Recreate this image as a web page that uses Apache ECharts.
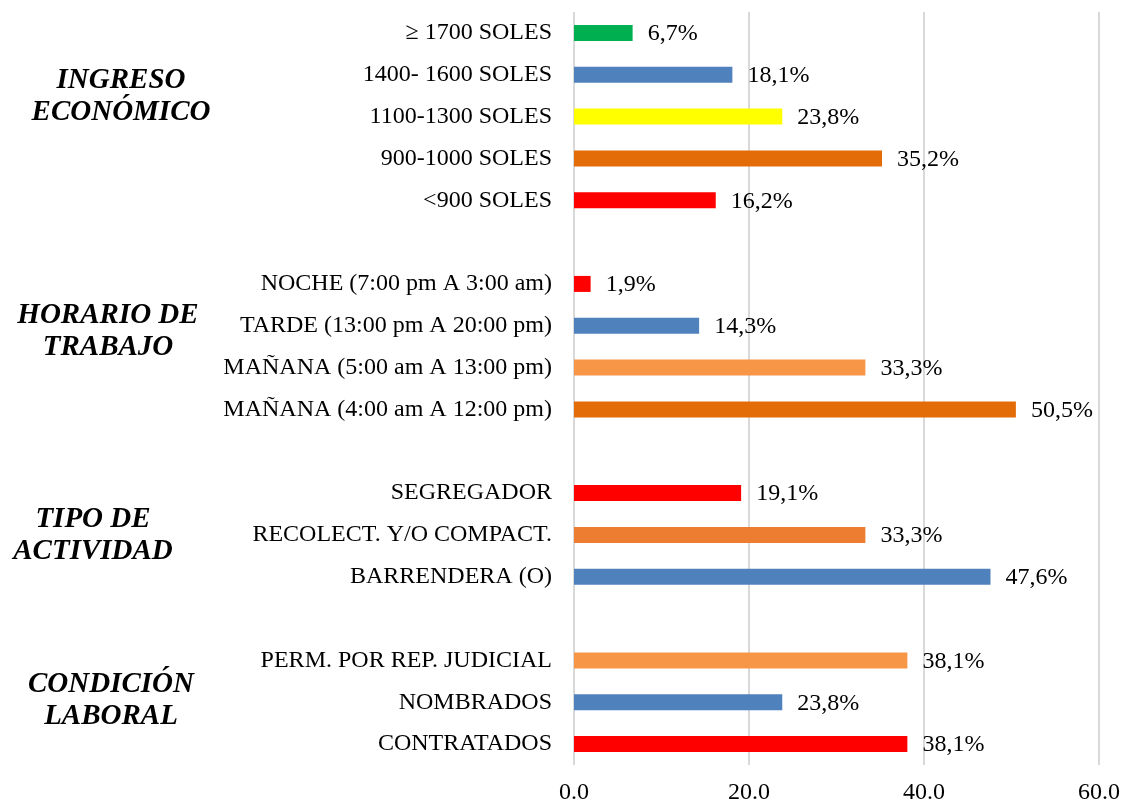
<!DOCTYPE html>
<html>
<head>
<meta charset="utf-8">
<script src="https://cdn.jsdelivr.net/npm/echarts@6/dist/echarts.min.js"></script>
<style>
  html, body { margin: 0; padding: 0; background: #fff; }
  #main { width: 1127px; height: 805px; }
</style>
</head>
<body>
<div id="main"></div>
<script>
// categorias de arriba hacia abajo ('' = espacio entre grupos)
var categorias = [
  '\u2265 1700 SOLES', '1400- 1600 SOLES', '1100-1300 SOLES', '900-1000 SOLES', '<900 SOLES',
  '',
  'NOCHE (7:00 pm A 3:00 am)', 'TARDE (13:00 pm A 20:00 pm)', 'MAÑANA (5:00 am A 13:00 pm)', 'MAÑANA (4:00 am A 12:00 pm)',
  '',
  'SEGREGADOR', 'RECOLECT. Y/O COMPACT.', 'BARRENDERA (O)',
  '',
  'PERM. POR REP. JUDICIAL', 'NOMBRADOS', 'CONTRATADOS'
];
var porcentajes = [
  6.7, 18.1, 23.8, 35.2, 16.2,
  null,
  1.9, 14.3, 33.3, 50.5,
  null,
  19.1, 33.3, 47.6,
  null,
  38.1, 23.8, 38.1
];
var colores = [
  '#00B050', '#4F81BD', '#FFFF00', '#E36C09', '#FF0000',
  null,
  '#FF0000', '#4F81BD', '#F79646', '#E36C09',
  null,
  '#FF0000', '#ED7D31', '#4F81BD',
  null,
  '#F79646', '#4F81BD', '#FF0000'
];
var grupos = ['INGRESO\nECONÓMICO', 'HORARIO DE\nTRABAJO', 'TIPO DE\nACTIVIDAD', 'CONDICIÓN\nLABORAL'];
var ticksX = [0, 20, 40, 60];

var fuente = '"Liberation Serif", "Times New Roman", serif';

var myChart = echarts.init(document.getElementById('main'));

var datos = porcentajes.map(function (v, i) {
  return { value: v, itemStyle: { color: colores[i] } };
});

// posiciones de los títulos de grupo
var posGrupos = [[121, 97], [108, 332], [93, 536], [111, 701]];

var option = {
  backgroundColor: '#fff',
  animation: false,
  grid: { left: 574, right: 28, top: 12, bottom: 36 },
  xAxis: {
    type: 'value',
    min: ticksX[0],
    max: ticksX[ticksX.length - 1],
    interval: 20,
    axisLine: { show: false },
    axisTick: { show: false },
    splitLine: { lineStyle: { color: '#D9D9D9', width: 2 } },
    axisLabel: {
      margin: 16,
      color: '#000',
      fontFamily: fuente,
      fontSize: 24,
      formatter: function (v) { return v.toFixed(1); }
    }
  },
  yAxis: {
    type: 'category',
    inverse: true,
    data: categorias,
    axisLine: { show: false },
    axisTick: { show: false },
    axisLabel: {
      margin: 22,
      color: '#000',
      fontFamily: fuente,
      fontSize: 24,
      padding: [0, 0, 4, 0]
    }
  },
  series: [{
    type: 'bar',
    barWidth: 16,
    data: datos,
    label: {
      show: true,
      position: 'right',
      distance: 15,
      color: '#000',
      fontFamily: fuente,
      fontSize: 24,
      offset: [0, 1],
      formatter: function (p) {
        return p.value == null ? '' : p.value.toFixed(1).replace('.', ',') + '%';
      }
    }
  }],
  graphic: grupos.map(function (t, i) {
    return {
      type: 'text',
      x: posGrupos[i][0],
      y: posGrupos[i][1],
      style: {
        text: t,
        fill: '#000',
        font: 'italic bold 29px ' + fuente,
        lineHeight: 32,
        align: 'center',
        verticalAlign: 'middle'
      }
    };
  })
};

myChart.setOption(option);
</script>
</body>
</html>
